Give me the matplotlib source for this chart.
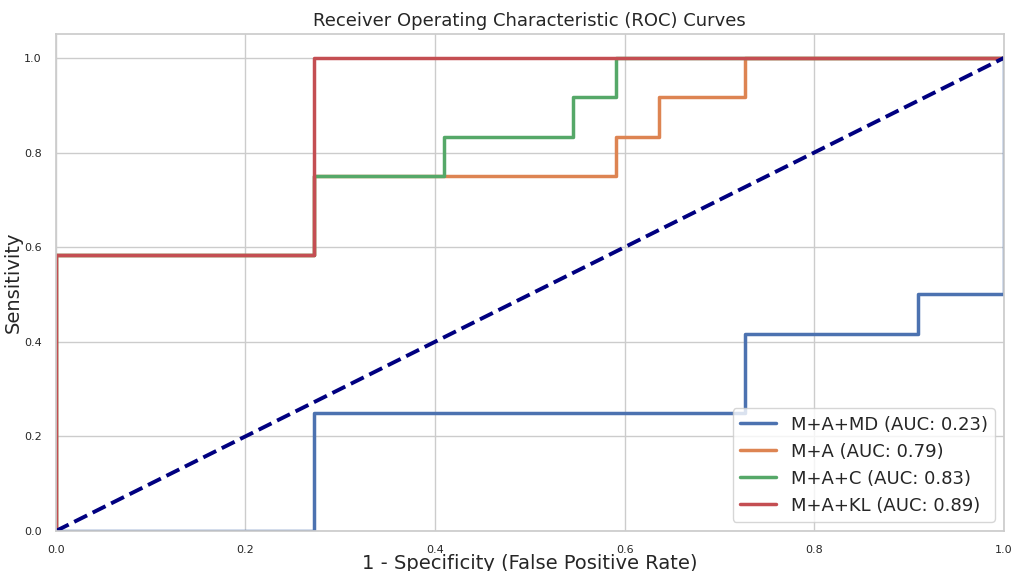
import matplotlib
matplotlib.use("Agg")
import matplotlib.pyplot as plt
import seaborn as sns

sns.set_theme(style="whitegrid")

# ROC operating points (false positive rate, true positive rate)
labels = ["M+A+MD", "M+A", "M+A+C", "M+A+KL"]
aucs = [0.23, 0.79, 0.83, 0.89]

fpr_md = [0.0, 6/22, 6/22, 16/22, 16/22, 20/22, 20/22, 1.0, 1.0]
tpr_md = [0.0, 0.0, 3/12, 3/12, 5/12, 5/12, 6/12, 6/12, 1.0]

fpr_a = [0.0, 0.0, 6/22, 6/22, 13/22, 13/22, 14/22, 14/22, 16/22, 16/22, 1.0]
tpr_a = [0.0, 7/12, 7/12, 9/12, 9/12, 10/12, 10/12, 11/12, 11/12, 1.0, 1.0]

fpr_c = [0.0, 0.0, 6/22, 6/22, 9/22, 9/22, 12/22, 12/22, 13/22, 13/22, 1.0]
tpr_c = [0.0, 7/12, 7/12, 9/12, 9/12, 10/12, 10/12, 11/12, 11/12, 1.0, 1.0]

fpr_kl = [0.0, 0.0, 6/22, 6/22, 1.0]
tpr_kl = [0.0, 7/12, 7/12, 1.0, 1.0]

curves = [(fpr_md, tpr_md), (fpr_a, tpr_a), (fpr_c, tpr_c), (fpr_kl, tpr_kl)]
colors = sns.color_palette("deep", 4)

fig, ax = plt.subplots(figsize=(10.14, 5.71), dpi=100)

for (fpr, tpr), name, auc, col in zip(curves, labels, aucs, colors):
    ax.plot(fpr, tpr, color=col, lw=2.5, label=f"{name} (AUC: {auc:.2f})")

ax.plot([0, 1], [0, 1], color="navy", lw=2.8, linestyle="--")

ax.set_xlim(0.0, 1.0)
ax.set_ylim(0.0, 1.05)
ax.tick_params(labelsize=8, pad=4)
ax.set_xlabel("1 - Specificity (False Positive Rate)", fontsize=14, labelpad=-1)
ax.set_ylabel("Sensitivity", fontsize=14, labelpad=1)
ax.set_title("Receiver Operating Characteristic (ROC) Curves", fontsize=13)
ax.legend(loc="lower right", fontsize=13)

fig.subplots_adjust(left=0.055, right=0.99, bottom=0.07, top=0.94)
fig.savefig("out.png", dpi=100)
